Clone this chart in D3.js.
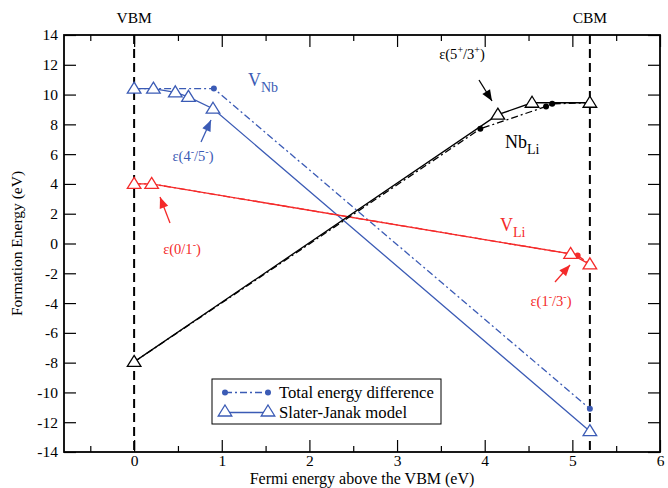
<!DOCTYPE html>
<html>
<head>
<meta charset="utf-8">
<script src="https://cdn.jsdelivr.net/npm/d3@7"></script>
<style>
  body { margin: 0; background: #fff; }
  svg, svg text { font-family: "Liberation Serif", "Times New Roman", "DejaVu Serif", serif; }
</style>
</head>
<body>
<div id="chart"></div>
<script>
// data (Fermi level in eV, formation energy in eV)
const vnbSJ = [[0, 10.4], [0.22, 10.4], [0.47, 10.15], [0.62, 9.85], [0.9, 9.05], [5.2, -12.6]];
const vnbTE = [[0, 10.4], [0.91, 10.4], [5.2, -11.1]];
const vliSJ = [[0, 4.0], [0.2, 4.0], [4.98, -0.7], [5.2, -1.4]];
const vliTE = [[0, 4.0], [0.2, 4.0], [4.98, -0.7], [5.06, -0.8], [5.2, -1.4]];
const nbliSJ = [[0, -7.95], [4.15, 8.65], [4.54, 9.45], [5.2, 9.45]];
const nbliTE = [[0, -7.95], [3.95, 7.7], [4.7, 9.2], [4.77, 9.38], [5.2, 9.45]];
const nbliTEdots = [[3.95, 7.7], [4.7, 9.2], [4.77, 9.38]];
const vnbTEdots = [[0.91, 10.4], [5.2, -11.1]];
const vliTEdots = [[5.06, -0.8]];
const bandEdges = [0, 5.2];
const xTicks = [0, 1, 2, 3, 4, 5, 6];
const yTicks = [-14, -12, -10, -8, -6, -4, -2, 0, 2, 4, 6, 8, 10, 12, 14];

const W = 668, H = 488;
const margin = {top: 35, right: 8, bottom: 36, left: 64};
const blue = "#3b5bb5", red = "#f42a2a", black = "#000";
const dashDot = "7,3,2,3";
const FONT = "Liberation Serif, Times New Roman, DejaVu Serif, serif";

const svg = d3.select("#chart").append("svg").attr("width", W).attr("height", H)
  .attr("font-family", FONT);

const x = d3.scaleLinear().domain([-0.8, 6]).range([margin.left, W - margin.right]);
const y = d3.scaleLinear().domain([-14, 14]).range([H - margin.bottom, margin.top]);

const line = d3.line().x(d => x(d[0])).y(d => y(d[1]));
const tri = "M0,-6.5L6.8,4.5L-6.8,4.5Z";
const plain = d => String(d);

// axes: ticks inward on all four sides
const minorX = d3.range(-0.5, 6, 0.5).filter(v => !Number.isInteger(v));
const axB = d3.axisBottom(x).tickValues(xTicks).tickFormat(plain).tickSize(-12).tickPadding(3).tickSizeOuter(0);
const axT = d3.axisTop(x).tickValues(xTicks).tickSize(-12).tickFormat("").tickSizeOuter(0);
const axL = d3.axisLeft(y).tickValues(yTicks).tickFormat(plain).tickSize(-12).tickPadding(6).tickSizeOuter(0);
const axR = d3.axisRight(y).tickValues(yTicks).tickSize(-12).tickFormat("").tickSizeOuter(0);

svg.append("g").attr("transform", `translate(0,${y(-14)})`).call(axB);
svg.append("g").attr("transform", `translate(0,${y(14)})`).call(axT);
svg.append("g").attr("transform", `translate(0,${y(-14)})`)
  .call(d3.axisBottom(x).tickValues(minorX).tickSize(-6).tickFormat("").tickSizeOuter(0));
svg.append("g").attr("transform", `translate(0,${y(14)})`)
  .call(d3.axisTop(x).tickValues(minorX).tickSize(-6).tickFormat("").tickSizeOuter(0));
svg.append("g").attr("transform", `translate(${x(-0.8)},0)`).call(axL);
svg.append("g").attr("transform", `translate(${x(6)},0)`).call(axR);

svg.selectAll(".domain").remove();
svg.selectAll("g").attr("font-family", FONT);
svg.selectAll(".tick line").attr("stroke", "#000").attr("stroke-width", 1.2);
svg.selectAll(".tick text").attr("font-size", 15.5).attr("fill", "#000");

svg.append("rect")
  .attr("x", x(-0.8)).attr("y", y(14))
  .attr("width", x(6) - x(-0.8)).attr("height", y(-14) - y(14))
  .attr("fill", "none").attr("stroke", "#000").attr("stroke-width", 1.8);

// VBM / CBM dashed lines
svg.selectAll(".edge").data(bandEdges).join("line")
  .attr("x1", d => x(d)).attr("x2", d => x(d))
  .attr("y1", y(14)).attr("y2", y(-14))
  .attr("stroke", "#000").attr("stroke-width", 2).attr("stroke-dasharray", "9,5");

svg.append("text").attr("x", x(0)).attr("y", 23).attr("text-anchor", "middle")
  .attr("font-size", 15.5).text("VBM");
svg.append("text").attr("x", x(5.2)).attr("y", 23).attr("text-anchor", "middle")
  .attr("font-size", 15.5).text("CBM");

// series
const series = [
  {te: vnbTE, sj: vnbSJ, dots: vnbTEdots, color: blue},
  {te: vliTE, sj: vliSJ, dots: vliTEdots, color: red},
  {te: nbliTE, sj: nbliSJ, dots: nbliTEdots, color: black}
];

series.forEach(s => {
  svg.append("path").attr("d", line(s.te)).attr("fill", "none")
    .attr("stroke", s.color).attr("stroke-width", 1.3).attr("stroke-dasharray", dashDot);
  svg.append("path").attr("d", line(s.sj)).attr("fill", "none")
    .attr("stroke", s.color).attr("stroke-width", 1.3);
  svg.append("g").selectAll("circle").data(s.dots).join("circle")
    .attr("cx", d => x(d[0])).attr("cy", d => y(d[1])).attr("r", 3)
    .attr("fill", s.color);
  svg.append("g").selectAll("path").data(s.sj).join("path")
    .attr("transform", d => `translate(${x(d[0])},${y(d[1])})`)
    .attr("d", tri).attr("fill", "#fff").attr("stroke", s.color).attr("stroke-width", 1.3);
});

// labels with subscripts
const subLabel = (px, py, main, sub, color) => {
  const t = svg.append("text").attr("x", px).attr("y", py).attr("fill", color).attr("font-size", 18);
  t.append("tspan").text(main);
  t.append("tspan").attr("dy", 6).attr("font-size", 14).text(sub);
};
subLabel(248, 86, "V", "Nb", blue);
subLabel(505, 148, "Nb", "Li", black);
subLabel(500, 231, "V", "Li", red);

// epsilon annotations: parts alternate normal / superscript
const eps = (px, py, parts, color) => {
  const t = svg.append("text").attr("x", px).attr("y", py).attr("fill", color)
    .attr("font-size", 14.5).attr("text-anchor", "middle");
  parts.forEach((p, i) => {
    const sup = i % 2 === 1;
    t.append("tspan").attr("dy", i === 0 ? 0 : (sup ? -6 : 6))
      .attr("font-size", sup ? 10 : 14.5).text(p);
  });
};
eps(193, 161, ["ε(4", "-", "/5", "-", ")"], blue);
eps(462, 59, ["ε(5", "+", "/3", "+", ")"], black);
eps(182, 254, ["ε(0/1", "-", ")"], red);
eps(551, 306, ["ε(1", "-", "/3", "-", ")"], red);

const arrow = (x1, y1, x2, y2, color) => {
  svg.append("line").attr("x1", x1).attr("y1", y1).attr("x2", x2).attr("y2", y2)
    .attr("stroke", color).attr("stroke-width", 1.3);
  const ang = Math.atan2(y2 - y1, x2 - x1), L = 11, w = 4.5;
  const bx = x2 - L * Math.cos(ang), by = y2 - L * Math.sin(ang);
  const px = -Math.sin(ang) * w, py = Math.cos(ang) * w;
  svg.append("path").attr("d", `M${x2},${y2}L${bx + px},${by + py}L${bx - px},${by - py}Z`)
    .attr("fill", color);
};
arrow(201, 142, 211, 120, blue);
arrow(479, 80, 492, 101, black);
arrow(170, 223, 160, 197, red);
arrow(555, 282, 570, 265, red);

// legend
const lg = svg.append("g").attr("transform", "translate(212,379)");
lg.append("rect").attr("width", 229).attr("height", 45)
  .attr("fill", "#fff").attr("stroke", "#000").attr("stroke-width", 1);
const legendRows = ["Total energy difference", "Slater-Janak model"];
legendRows.forEach((name, i) => {
  const yy = 13.5 + i * 20;
  lg.append("line").attr("x1", 13).attr("x2", 56).attr("y1", yy).attr("y2", yy)
    .attr("stroke", blue).attr("stroke-width", 1.3)
    .attr("stroke-dasharray", i === 0 ? dashDot : null);
  [13, 56].forEach(cx => {
    if (i === 0) {
      lg.append("circle").attr("cx", cx).attr("cy", yy).attr("r", 3).attr("fill", blue);
    } else {
      lg.append("path").attr("transform", `translate(${cx},${yy - 1})`).attr("d", tri)
        .attr("fill", "#fff").attr("stroke", blue).attr("stroke-width", 1.3);
    }
  });
  lg.append("text").attr("x", 67).attr("y", yy + 5.5).attr("font-size", 16.7).text(name);
});

// axis titles
svg.append("text").attr("x", x(2.6)).attr("y", 484).attr("text-anchor", "middle")
  .attr("font-size", 16).text("Fermi energy above the VBM (eV)");
svg.append("text").attr("transform", `translate(22,${y(0)}) rotate(-90)`)
  .attr("text-anchor", "middle").attr("font-size", 15.5).text("Formation Energy (eV)");
</script>
</body>
</html>
